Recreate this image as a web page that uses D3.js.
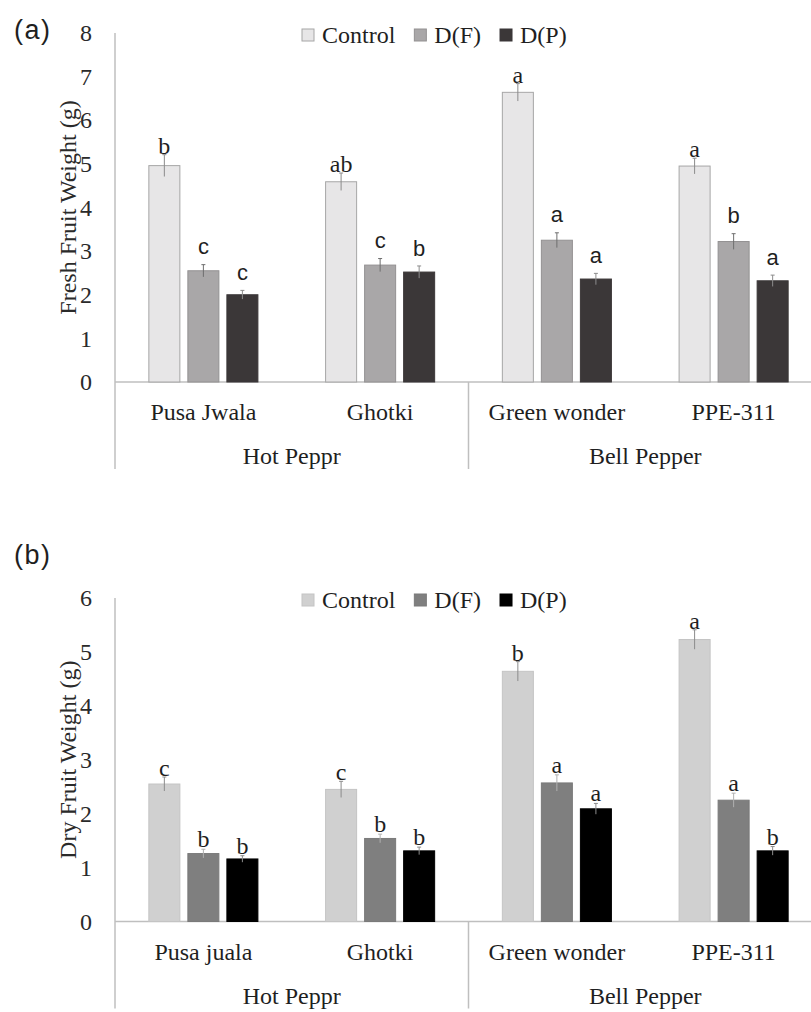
<!DOCTYPE html>
<html>
<head>
<meta charset="utf-8">
<script src="https://cdn.jsdelivr.net/npm/d3@7"></script>
<style>
  html, body { margin: 0; padding: 0; background: #ffffff; }
  svg { display: block; }
</style>
</head>
<body>
<svg id="chart" width="811" height="1012"></svg>
<script>
// ---- Data ----
const treatments = ["Control", "D(F)", "D(P)"];
const groups = ["Hot Peppr", "Bell Pepper"];

// Panel (a): fresh fruit weight
const cultivarsA = ["Pusa Jwala", "Ghotki", "Green wonder", "PPE-311"];
const freshControl = [4.96, 4.59, 6.64, 4.95];
const freshDF      = [2.55, 2.68, 3.25, 3.22];
const freshDP      = [2.00, 2.52, 2.36, 2.32];
const freshControlErr = [0.25, 0.20, 0.20, 0.18];
const freshDFErr      = [0.14, 0.15, 0.17, 0.18];
const freshDPErr      = [0.10, 0.14, 0.13, 0.13];
const freshControlSig = ["b", "ab", "a", "a"];
const freshDFSig      = ["c", "c", "a", "b"];
const freshDPSig      = ["c", "b", "a", "a"];
const freshTicks = [0, 1, 2, 3, 4, 5, 6, 7, 8];

// Panel (b): dry fruit weight
const cultivarsB = ["Pusa juala", "Ghotki", "Green wonder", "PPE-311"];
const dryControl = [2.55, 2.45, 4.64, 5.23];
const dryDF      = [1.26, 1.54, 2.57, 2.25];
const dryDP      = [1.16, 1.31, 2.09, 1.31];
const dryControlErr = [0.13, 0.15, 0.18, 0.18];
const dryDFErr      = [0.08, 0.08, 0.15, 0.13];
const dryDPErr      = [0.06, 0.07, 0.10, 0.08];
const dryControlSig = ["c", "c", "b", "a"];
const dryDFSig      = ["b", "b", "a", "a"];
const dryDPSig      = ["b", "b", "a", "b"];
const dryTicks = [0, 1, 2, 3, 4, 5, 6];

// ---- Drawing ----
const svg = d3.select("#chart");
const serif = "'Liberation Serif', 'Times New Roman', serif";
const sans = "'Liberation Sans', Arial, sans-serif";
const axisColor = "#bfbfbf";
const textColor = "#1f1f1f";

function drawPanel(p) {
  const g = svg.append("g");

  const y = d3.scaleLinear().domain([0, p.ticks[p.ticks.length - 1]]).range([p.y0, p.y1]);
  const x0 = d3.scaleBand().domain(p.cultivars).range([115, 822])
    .paddingInner(0.383).paddingOuter(0.1915);
  const x1 = d3.scaleBand().domain(treatments).range([0, x0.bandwidth()])
    .paddingInner(0.205).paddingOuter(0);

  // panel tag
  g.append("text").attr("x", 14).attr("y", p.tagY)
    .attr("font-family", sans).attr("font-size", 27).attr("letter-spacing", 1.5)
    .attr("fill", textColor)
    .text(p.tag);

  // y tick labels (no tick marks)
  g.append("g").selectAll("text").data(p.ticks).join("text")
    .attr("x", 92).attr("y", d => y(d)).attr("dy", "0.34em")
    .attr("text-anchor", "end")
    .attr("font-family", serif).attr("font-size", 24).attr("fill", "#2a2a2a")
    .text(d => d);

  // y-axis title
  g.append("text")
    .attr("transform", `translate(76,${(p.y0 + p.y1) / 2}) rotate(-90)`)
    .attr("text-anchor", "middle")
    .attr("font-family", serif).attr("font-size", 24).attr("fill", "#2a2a2a")
    .text(p.title);

  // axis lines
  const bottom = p.y0 + 87;
  g.append("line").attr("x1", 115).attr("x2", 115).attr("y1", p.y1).attr("y2", bottom)
    .attr("stroke", axisColor).attr("stroke-width", 1.5);
  g.append("line").attr("x1", 115).attr("x2", 822).attr("y1", y(0)).attr("y2", y(0))
    .attr("stroke", axisColor).attr("stroke-width", 1.5);
  const sepX = x0(p.cultivars[2]) - (x0.step() - x0.bandwidth()) / 2;
  g.append("line").attr("x1", sepX).attr("x2", sepX).attr("y1", y(0)).attr("y2", bottom)
    .attr("stroke", axisColor).attr("stroke-width", 1.5);

  // category labels
  g.append("g").selectAll("text").data(p.cultivars).join("text")
    .attr("x", d => x0(d) + x0.bandwidth() / 2).attr("y", y(0) + 30).attr("dy", "0.34em")
    .attr("text-anchor", "middle")
    .attr("font-family", serif).attr("font-size", 24).attr("fill", textColor)
    .text(d => d);

  // group labels
  const groupCenters = [(115 + sepX) / 2, (sepX + 822) / 2];
  g.append("g").selectAll("text").data(groups).join("text")
    .attr("x", (d, i) => groupCenters[i]).attr("y", y(0) + 74).attr("dy", "0.34em")
    .attr("text-anchor", "middle")
    .attr("font-family", serif).attr("font-size", 24).attr("fill", textColor)
    .text(d => d);

  // bars, error bars, significance letters
  p.series.forEach((s, si) => {
    const rows = p.cultivars.map((c, i) => ({
      c, v: s.values[i], e: s.err[i], sig: s.sig[i]
    }));
    const sg = g.append("g");
    const bx = d => x0(d.c) + x1(treatments[si]);
    sg.selectAll("rect").data(rows).join("rect")
      .attr("x", bx).attr("y", d => y(d.v))
      .attr("width", x1.bandwidth()).attr("height", d => y(0) - y(d.v))
      .attr("fill", s.fill).attr("stroke", s.stroke).attr("stroke-width", 1);
    const cx = d => bx(d) + x1.bandwidth() / 2;
    sg.selectAll("line.err").data(rows).join("line").attr("class", "err")
      .attr("x1", cx).attr("x2", cx)
      .attr("y1", d => y(d.v + d.e)).attr("y2", d => y(d.v - d.e))
      .attr("stroke", s.errColor).attr("stroke-width", 1);
    sg.selectAll("line.cap").data(rows).join("line").attr("class", "cap")
      .attr("x1", d => cx(d) - 2).attr("x2", d => cx(d) + 2)
      .attr("y1", d => y(d.v + d.e)).attr("y2", d => y(d.v + d.e))
      .attr("stroke", s.errColor).attr("stroke-width", 1);
    sg.selectAll("text").data(rows).join("text")
      .attr("x", cx).attr("y", d => y(d.v + d.e) - s.sigGap)
      .attr("text-anchor", "middle")
      .attr("font-family", s.sigFont).attr("font-size", s.sigSize).attr("fill", textColor)
      .text(d => d.sig);
  });

  // legend
  const lg = g.append("g");
  let lx = 302;
  p.series.forEach((s, si) => {
    lg.append("rect").attr("x", lx).attr("y", p.legendY - 6).attr("width", 12).attr("height", 12)
      .attr("fill", s.fill).attr("stroke", s.stroke).attr("stroke-width", 1);
    const t = lg.append("text").attr("x", lx + 20).attr("y", p.legendY).attr("dy", "0.34em")
      .attr("font-family", serif).attr("font-size", 24).attr("fill", textColor)
      .text(treatments[si]);
    lx += 20 + t.node().getComputedTextLength() + 19;
  });
}

drawPanel({
  tag: "(a)", tagY: 39,
  cultivars: cultivarsA, ticks: freshTicks,
  y0: 382, y1: 33, legendY: 35,
  title: "Fresh Fruit Weight (g)",
  series: [
    { values: freshControl, err: freshControlErr, sig: freshControlSig,
      fill: "#e7e6e7", stroke: "#a6a6a6", errColor: "#8c8c8c", sigFont: serif, sigSize: 24, sigGap: 1 },
    { values: freshDF, err: freshDFErr, sig: freshDFSig,
      fill: "#a9a7a8", stroke: "#939192", errColor: "#6e6e6e", sigFont: sans, sigSize: 22, sigGap: 11 },
    { values: freshDP, err: freshDPErr, sig: freshDPSig,
      fill: "#3b3738", stroke: "#3b3738", errColor: "#8c8c8c", sigFont: sans, sigSize: 22, sigGap: 10 }
  ]
});

drawPanel({
  tag: "(b)", tagY: 564,
  cultivars: cultivarsB, ticks: dryTicks,
  y0: 921.5, y1: 598, legendY: 600,
  title: "Dry Fruit Weight (g)",
  series: [
    { values: dryControl, err: dryControlErr, sig: dryControlSig,
      fill: "#d0d0d0", stroke: "#c4c4c4", errColor: "#8c8c8c", sigFont: serif, sigSize: 24, sigGap: 1 },
    { values: dryDF, err: dryDFErr, sig: dryDFSig,
      fill: "#7f7f7f", stroke: "#7a7a7a", errColor: "#b0b0b0", sigFont: serif, sigSize: 24, sigGap: 2 },
    { values: dryDP, err: dryDPErr, sig: dryDPSig,
      fill: "#000000", stroke: "#000000", errColor: "#8c8c8c", sigFont: serif, sigSize: 24, sigGap: 2 }
  ]
});
</script>
</body>
</html>
